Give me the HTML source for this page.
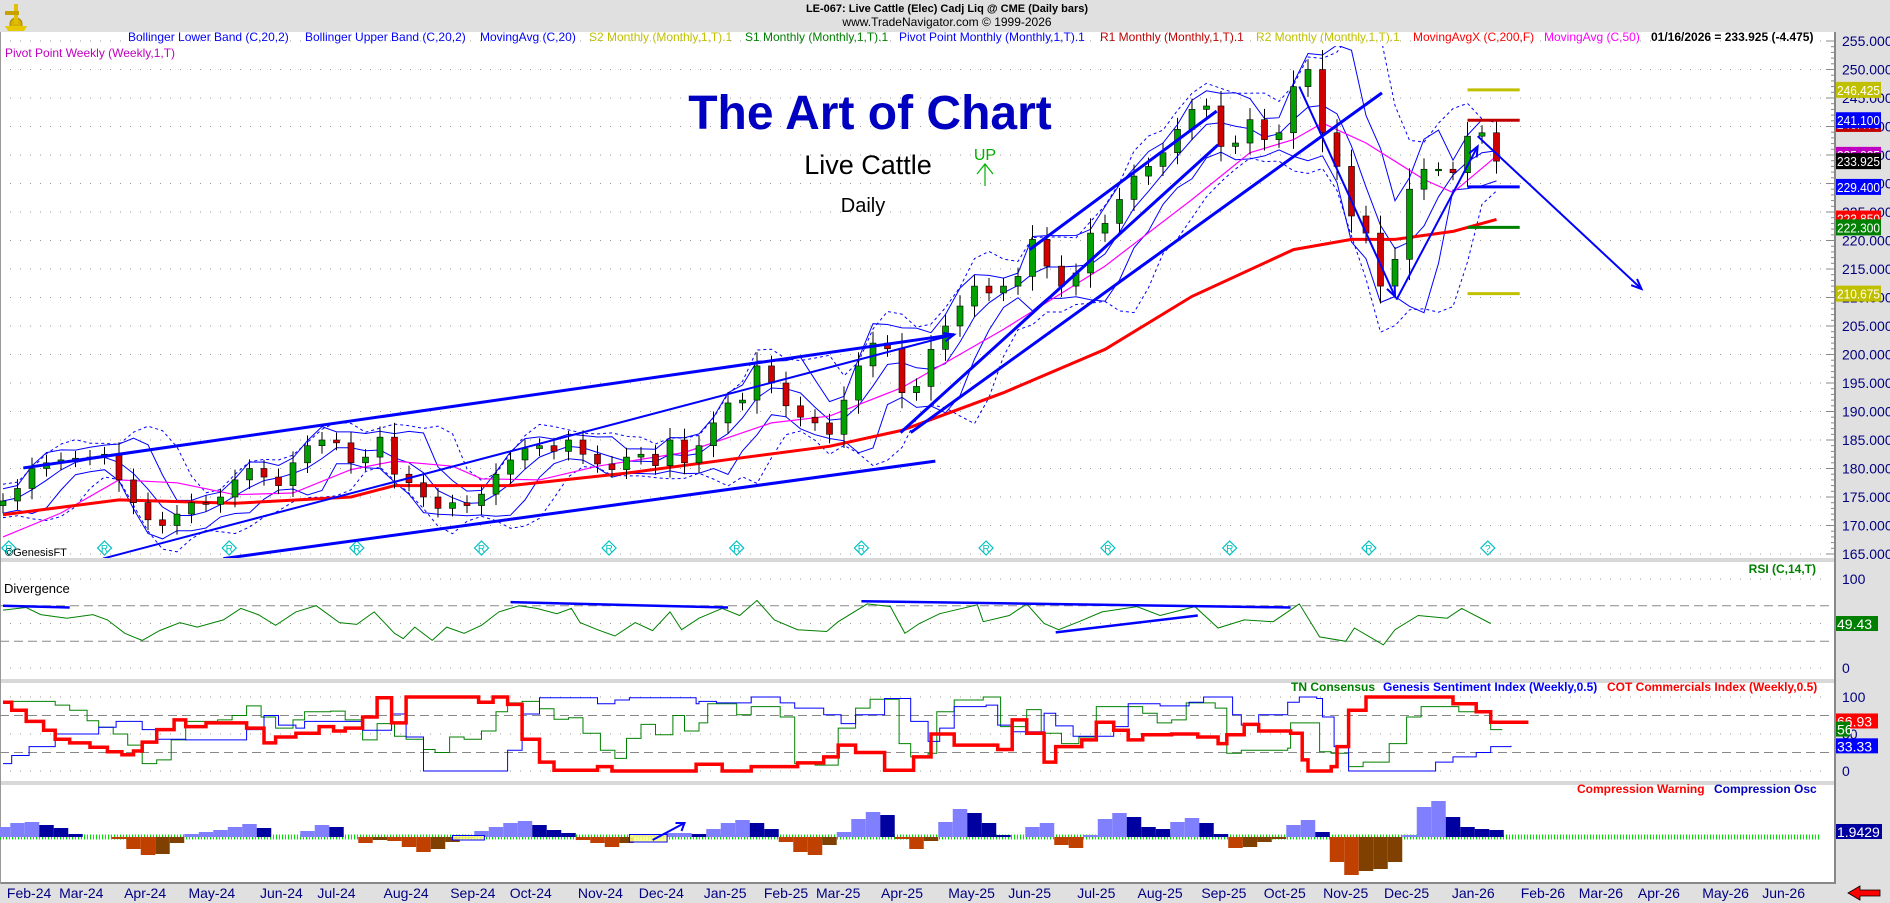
<!DOCTYPE html>
<html><head><meta charset="utf-8"><title>Live Cattle - The Art of Chart</title>
<style>
html,body{margin:0;padding:0;background:#fff;}
svg{display:block;font-family:"Liberation Sans",Arial,sans-serif;}
</style></head>
<body>
<svg id="chart" width="1890" height="903" viewBox="0 0 1890 903" xmlns="http://www.w3.org/2000/svg">
  <defs>
    <clipPath id="mainClip"><rect x="0" y="46" width="1835" height="512"/></clipPath>
  </defs>
  <rect x="0" y="0" width="1890" height="903" fill="#ffffff"/>
  <rect x="0" y="0" width="1890" height="32" fill="#e0e0e0"/>
  <rect x="1836" y="32" width="54" height="871" fill="#e0e0e0"/>
  <rect x="0" y="884" width="1890" height="19" fill="#e0e0e0"/>
  <rect x="0" y="558" width="1836" height="4" fill="#d8d8d8"/>
  <rect x="0" y="679" width="1836" height="4" fill="#d8d8d8"/>
  <rect x="0" y="781" width="1836" height="4" fill="#d8d8d8"/>
  <line x1="0" y1="883" x2="1836" y2="883" stroke="#888" stroke-width="2"/>
  <line x1="1835" y1="32" x2="1835" y2="884" stroke="#888" stroke-width="2"/>
  <line x1="0.5" y1="32" x2="0.5" y2="884" stroke="#999" stroke-width="1"/>

  <g>
    <circle cx="16" cy="24" r="6" fill="#d8b000" stroke="#a08000"/>
    <rect x="14" y="4" width="4" height="20" fill="#e0c000"/>
    <rect x="5" y="11" width="14" height="4" fill="#c8a000"/>
    <path d="M5 26 L27 26 L24 31 L8 31 Z" fill="#e8c800"/>
  </g>
  <text x="947" y="12" font-size="11" font-weight="bold" text-anchor="middle" fill="#000">LE-067:  Live Cattle (Elec) Cadj Liq @ CME  (Daily bars)</text>
  <text x="947" y="26" font-size="12" text-anchor="middle" fill="#000">www.TradeNavigator.com © 1999-2026</text>

  <g font-size="12">
    <text x="128" y="41" fill="#0000ff">Bollinger Lower Band (C,20,2)</text>
    <text x="305" y="41" fill="#0000ff">Bollinger Upper Band (C,20,2)</text>
    <text x="480" y="41" fill="#0000ff">MovingAvg (C,20)</text>
    <text x="589" y="41" fill="#c0c000">S2 Monthly (Monthly,1,T).1</text>
    <text x="745" y="41" fill="#008000">S1 Monthly (Monthly,1,T).1</text>
    <text x="899" y="41" fill="#0000ff">Pivot Point Monthly (Monthly,1,T).1</text>
    <text x="1100" y="41" fill="#c00000">R1 Monthly (Monthly,1,T).1</text>
    <text x="1256" y="41" fill="#c0c000">R2 Monthly (Monthly,1,T).1</text>
    <text x="1413" y="41" fill="#ff0000">MovingAvgX (C,200,F)</text>
    <text x="1544" y="41" fill="#ff00ff">MovingAvg (C,50)</text>
    <text x="1651" y="41" fill="#000" font-weight="bold">01/16/2026 = 233.925 (-4.475)</text>
    <text x="5" y="57" fill="#c000c0">Pivot Point Weekly (Weekly,1,T)</text>
  </g>

  <g id="grid"></g>
  <g id="main" clip-path="url(#mainClip)"></g>
  <g id="rsi"></g>
  <g id="cons"></g>
  <g id="comp"></g>
  <g id="axes"></g>

  <text x="870" y="129" font-size="48" font-weight="bold" text-anchor="middle" fill="#0000c0">The Art of Chart</text>
  <text x="868" y="174" font-size="27" text-anchor="middle" fill="#000">Live Cattle</text>
  <text x="863" y="212" font-size="20" text-anchor="middle" fill="#000">Daily</text>
  <g>
    <text x="985" y="160" font-size="16" text-anchor="middle" fill="#00b000">UP</text>
    <line x1="985" y1="164" x2="985" y2="186" stroke="#00b000" stroke-width="1.2"/>
    <polyline points="977,174 985,164 993,174" fill="none" stroke="#00b000" stroke-width="1.2"/>
  </g>

  <text x="4" y="593" font-size="13" fill="#000">Divergence</text>
  <text x="1816" y="573" font-size="12" font-weight="bold" text-anchor="end" fill="#008000">RSI (C,14,T)</text>
  <text x="1291" y="691" font-size="12" font-weight="bold" fill="#008000">TN Consensus</text>
  <text x="1383" y="691" font-size="12" font-weight="bold" fill="#0000ff">Genesis Sentiment Index (Weekly,0.5)</text>
  <text x="1607" y="691" font-size="12" font-weight="bold" fill="#ff0000">COT Commercials Index (Weekly,0.5)</text>
  <text x="1577" y="793" font-size="12" font-weight="bold" fill="#ff0000">Compression Warning</text>
  <text x="1714" y="793" font-size="12" font-weight="bold" fill="#0000c0">Compression Osc</text>
  <text x="5" y="556" font-size="11" fill="#000">©GenesisFT</text>
  <path d="M1848 893 L1860 886 L1860 890 L1880 890 L1880 896 L1860 896 L1860 900 Z" fill="#ff0000" stroke="#000" stroke-width="0.8"/>
</svg>
<script>
// ===== data =====
const weeklyCloses = [174.3,176.5,180,181,181.5,181.8,182,182.5,178,174,
171,170,172,174,173.7,175,178,180,178.5,177,
181,184,185,184.5,181,182,185.5,179,177.5,175,
173,174,173.5,175.5,179,181.5,183.5,184,183,185,
182.5,180.8,179.8,182,182.5,180.5,185,181,184,188,
191.5,192,198,195,191,189,188,186,192,198,
202,201,193.3,194.4,200.9,205,208.5,212,210.8,212,
213.7,220.2,215.5,212,214.3,221.3,223,227.2,231.3,233,
235.4,239.5,243,243.6,236.5,237.1,241.2,237.7,238.9,247,
250,238.9,233,224.3,221.3,212,216.7,229,232.5,232.5,
231.9,238.3,238.9,233.925];
const ma200Points = [[0,171.9],[8,174.5],[16,173.9],[24,175],[27,177],[35,177],[43,179.2],[51,181.9],[57,183.9],[62,186.7],[69,193.3],[76,200.9],[82,210.2],[89,218.4],[93,220.2],[96,220.2],[100,221.6],[103,223.7]];
const ma50Points = [[0,168],[4,172.2],[8,178],[12,177.5],[16,175.4],[20,175.7],[24,179.8],[27,181.3],[31,180.4],[33,178.2],[37,178],[41,180.4],[47,182.8],[53,188],[57,189.2],[62,194.2],[69,204.4],[76,215.5],[82,227.2],[86,235.4],[89,237.7],[91,240.6],[94,237.1],[98,230.7],[100,228.4],[103,234.8]];
const trendLines = [[1.4,180.1,65.6,203.5,0],[6.9,164.2,65.6,203.5,1],[15.2,164.2,64.3,181.3,0],[62.6,186.3,95.1,245.9,0],[70.8,218.4,83.7,242.7,0],[61.9,186.3,83.8,236.8,0],[89.4,247,96,210.2,1],[96.1,209.6,101.7,236.5,1],[101.7,238.3,113,211.5,1]];
const pivotLevels = [246.425,241.1,229.4,222.3,210.675];
const pivotNames = ['r2','r1','pp','s1','s2'];
const pivotColors = ['#c0c000','#c00000','#0000ff','#008000','#c0c000'];
const priceTicks = [255,250,245,240,235,230,225,220,215,210,205,200,195,190,185,180,175,170,165];
const priceBoxes = [[246.425,'#c0c000','246.425'],[240.45,'#c00000','240.475'],[241.1,'#0000ff','241.100'],[235.025,'#c000c0','235.025'],[233.925,'#000000','233.925'],[229.4,'#0000ff','229.400'],[223.85,'#ff0000','223.850'],[222.3,'#008000','222.300'],[210.675,'#c0c000','210.675']];
const rsiSeries = [[0,65],[8,68],[13,60],[22,56],[31,60],[36,54],[42,39],[45,35],[48,31],[54,42],[61,51],[67,46],[76,54],[82,67],[88,60],[94,48],[101,63],[108,70],[116,51],[122,49],[128,63],[135,39],[138,33],[142,46],[148,31],[153,46],[159,39],[165,48],[171,63],[178,70],[184,67],[191,61],[196,67],[199,51],[205,43],[211,36],[218,51],[224,42],[230,63],[234,43],[240,56],[248,67],[254,59],[260,76],[266,54],[274,43],[284,41],[288,52],[298,72],[306,69],[311,39],[316,50],[323,61],[336,71],[338,52],[347,59],[353,72],[359,50],[364,43],[371,52],[379,63],[391,69],[399,59],[411,69],[419,45],[428,54],[438,52],[447,72],[454,35],[463,30],[466,45],[476,26],[480,43],[488,59],[498,56],[503,67],[513,50]];
const divergenceLines = [[0,70,23,68],[175,74,250,68],[296,75,444,68],[363,40,412,59]];
const cotSeries = [[0,93],[3,82],[8,67],[14,55],[18,43],[23,38],[30,32],[36,26],[41,22],[45,27],[48,39],[53,56],[59,69],[63,60],[70,65],[84,58],[90,38],[94,46],[101,51],[109,60],[114,54],[118,58],[124,73],[129,99],[134,65],[139,100],[164,93],[169,100],[174,90],[179,43],[185,12],[190,1],[205,6],[210,0],[239,9],[248,0],[258,6],[274,11],[283,19],[288,35],[294,25],[304,1],[314,19],[320,50],[328,35],[343,29],[348,69],[353,51],[359,12],[363,33],[372,42],[377,66],[383,55],[388,42],[393,49],[403,50],[412,46],[419,37],[422,49],[428,63],[433,54],[444,51],[448,15],[450,0],[458,6],[460,33],[464,82],[470,100],[494,100],[500,91],[508,80],[513,66],[526,66]];
const genesisSeries = [[0,10],[3,21],[9,33],[18,50],[33,59],[39,67],[48,56],[53,43],[63,42],[84,56],[90,75],[95,62],[101,58],[104,67],[113,67],[124,55],[134,77],[139,46],[145,0],[174,28],[179,77],[185,99],[205,91],[211,96],[216,99],[239,91],[240,94],[246,92],[258,100],[268,92],[273,85],[283,76],[289,64],[294,76],[304,98],[313,67],[319,40],[323,58],[328,87],[339,89],[343,62],[348,53],[359,78],[363,61],[369,47],[379,47],[383,60],[388,91],[399,88],[409,93],[414,100],[424,76],[427,62],[433,76],[443,93],[447,100],[453,98],[455,73],[459,33],[464,0],[488,0],[494,12],[500,19],[508,25],[513,33],[520,34]];
const tnSeries = [[0,94],[13,94],[18,89],[23,82],[29,68],[33,59],[38,50],[43,35],[48,10],[53,15],[58,42],[63,67],[74,69],[79,75],[84,88],[89,73],[94,58],[100,69],[104,80],[113,81],[118,69],[124,42],[129,64],[135,47],[139,43],[145,29],[149,25],[154,46],[159,43],[165,54],[170,80],[174,92],[179,94],[185,84],[190,70],[195,72],[200,51],[206,28],[211,17],[215,44],[220,63],[225,49],[231,75],[235,54],[240,65],[243,91],[253,76],[258,87],[268,73],[273,10],[280,8],[288,58],[294,85],[299,97],[309,37],[313,19],[319,24],[322,80],[328,96],[338,100],[344,60],[353,83],[358,51],[365,37],[371,46],[377,87],[393,78],[398,65],[403,69],[408,92],[418,85],[422,24],[427,28],[443,31],[444,65],[453,65],[454,26],[458,24],[464,6],[469,12],[478,37],[484,73],[489,87],[502,80],[508,80],[513,56],[517,56]];
const compressionOsc = [1.0,1.4,1.5,1.2,0.9,0.3,0,0,-0.2,-1.2,
-1.8,-1.7,-0.6,0.3,0.5,0.7,1.0,1.3,0.9,0,
0,0.6,1.2,1.0,0,-0.6,-0.3,-0.4,-1.0,-1.5,
-1.2,-0.5,-0.1,0.6,1.0,1.4,1.6,1.2,0.7,0.4,
-0.3,-0.6,-1.0,-0.6,0.2,0.3,0.4,0.4,0.3,0.8,
1.4,1.7,1.4,0.8,-0.5,-1.5,-1.8,-0.8,0.5,1.8,
2.5,2.2,-0.2,-1.2,-0.4,1.5,2.8,2.4,1.4,0.2,
0,1.0,1.4,-0.8,-1.1,0.2,1.8,2.4,2.0,1.0,
0.8,1.5,1.9,1.4,0.3,-1.1,-1.0,-0.5,-0.2,1.2,
1.7,0.5,-2.5,-3.8,-3.4,-3.2,-2.5,0.2,3.0,3.6,
2.0,1.0,0.8,0.7];
const monthLabels = ['Feb-24','Mar-24','Apr-24','May-24','Jun-24','Jul-24','Aug-24','Sep-24','Oct-24','Nov-24','Dec-24','Jan-25','Feb-25','Mar-25','Apr-25','May-25','Jun-25','Jul-25','Aug-25','Sep-25','Oct-25','Nov-25','Dec-25','Jan-26','Feb-26','Mar-26','Apr-26','May-26','Jun-26'];
const monthDays = [9,27,49,72,96,115,139,162,182,206,227,249,270,288,310,334,354,377,399,421,442,463,484,507,531,551,571,594,614];
const rDiamondDays = [2,35,78,122,165,209,253,296,339,381,423,471,512];

// ===== scales =====
const NS='http://www.w3.org/2000/svg';
function xd(d){return 3 + d*2.9;}
function xw(i){return xd(i*5);}
function py(p){return 41 + (255-p)*5.7;}
function ry(v){return 668 - v*0.89;}
function cy(v){return 771 - v*0.74;}
function oy(v){return 837 - v*10;}
function mk(tag,attrs,parent){const e=document.createElementNS(NS,tag);for(const k in attrs)e.setAttribute(k,attrs[k]);parent.appendChild(e);return e;}

const grid=document.getElementById('grid');
const main=document.getElementById('main');
const rsiG=document.getElementById('rsi');
const consG=document.getElementById('cons');
const compG=document.getElementById('comp');
const axes=document.getElementById('axes');

priceTicks.forEach(t=>{
  const l=mk('line',{x1:0,x2:1830,y1:py(t),y2:py(t),stroke:'#999','stroke-dasharray':'1 9'},grid);
  
  
});
[[100,'1 9'],[70,'9 5'],[50,'1 9'],[30,'9 5'],[0,'1 9']].forEach(g=>{
  const l=mk('line',{x1:0,x2:1830,y1:ry(g[0]),y2:ry(g[0]),stroke:g[1]==='1 9'?'#999':'#888','stroke-dasharray':g[1]},grid);
  
  
});
[[100,'1 9'],[75,'9 5'],[50,'1 9'],[25,'9 5'],[0,'1 9']].forEach(g=>{
  const l=mk('line',{x1:0,x2:1830,y1:cy(g[0]),y2:cy(g[0]),stroke:g[1]==='1 9'?'#999':'#888','stroke-dasharray':g[1]},grid);
  
  
});

rDiamondDays.forEach((d,k)=>{
  const x=xd(d), y=548;
  const g=mk('g',{},main);
  
  
  mk('path',{d:`M${x} ${y-7} L${x+7} ${y} L${x} ${y+7} L${x-7} ${y} Z`,fill:'none',stroke:'#00c0c0','stroke-width':1.2},g);
  mk('text',{x:x,y:y+4,'font-size':10,'text-anchor':'middle',fill:'#00c0c0'},g).textContent=(k===rDiamondDays.length-1)?'?':'R';
});

function bands(win,k,minSd){
  const up=[],lo=[],mid=[];
  for(let i=0;i<weeklyCloses.length;i++){
    const s=[];for(let j=i-win+1;j<=i;j++)s.push(weeklyCloses[Math.max(0,j)]);
    const m=s.reduce((a,b)=>a+b,0)/s.length;
    const sd=Math.max(minSd,Math.sqrt(s.reduce((a,b)=>a+(b-m)*(b-m),0)/s.length));
    mid.push([i,m]);up.push([i,m+k*sd]);lo.push([i,m-k*sd]);
  }
  return {up,lo,mid};
}
function pathW(pts,f){return pts.map((p,i)=>(i?'L':'M')+xw(p[0]).toFixed(1)+' '+f(p[1]).toFixed(1)).join(' ');}
const bb=bands(4,1.8,1.2), bb2=bands(6,2.1,1.4);
[['bollinger-upper-band',bb.up,'none'],['bollinger-lower-band',bb.lo,'none'],['moving-average-20',bb.mid,'none'],['outer-band-upper',bb2.up,'3 3'],['outer-band-lower',bb2.lo,'3 3']].forEach(b=>{
  const p=mk('path',{d:pathW(b[1],py),fill:'none',stroke:'#0000ff','stroke-width':1,'stroke-dasharray':b[2]},main);
  
  
});
const m50=mk('path',{d:pathW(ma50Points,py),fill:'none',stroke:'#ff00ff','stroke-width':1.2},main);


const m200=mk('path',{d:pathW(ma200Points,py),fill:'none',stroke:'#ff0000','stroke-width':3},main);



weeklyCloses.forEach((c,i)=>{
  const o=i?weeklyCloses[i-1]:c-0.8;
  const hi=Math.max(o,c)+1.2+Math.abs(c-o)*0.2, lo=Math.min(o,c)-1.2-Math.abs(c-o)*0.2;
  const x=xw(i), up=c>=o;
  const g=mk('g',{},main);
  
  
  mk('line',{x1:x,x2:x,y1:py(hi),y2:py(lo),stroke:'#000','stroke-width':1},g);
  const top=py(Math.max(o,c)), h=Math.max(1.5,py(Math.min(o,c))-top);
  mk('rect',{x:x-3,y:top,width:6,height:h,fill:up?'#00a000':'#d00000',stroke:'#000','stroke-width':0.6},g);
});

pivotLevels.forEach((p,k)=>{
  const l=mk('line',{x1:xd(505),x2:xd(523),y1:py(p),y2:py(p),stroke:pivotColors[k],'stroke-width':3},main);
  
  
});

trendLines.forEach(t=>{
  const x1=xw(t[0]),y1=py(t[1]),x2=xw(t[2]),y2=py(t[3]);
  const g=mk('g',{},main);
  
  
  mk('line',{x1,y1,x2,y2,stroke:'#0000ff','stroke-width':t[4]?2:3},g);
  if(t[4]){
    const a=Math.atan2(y2-y1,x2-x1),L=11;
    mk('polyline',{points:`${x2-L*Math.cos(a-0.4)},${y2-L*Math.sin(a-0.4)} ${x2},${y2} ${x2-L*Math.cos(a+0.4)},${y2-L*Math.sin(a+0.4)}`,fill:'none',stroke:'#0000ff','stroke-width':2},g);
  }
});

function pathD(pts,f){return pts.map((p,i)=>(i?'L':'M')+xd(p[0]).toFixed(1)+' '+f(p[1]).toFixed(1)).join(' ');}
function stepD(pts,f){let s='';pts.forEach((p,i)=>{const x=xd(p[0]).toFixed(1),y=f(p[1]).toFixed(1);s+=i?`L${x} ${f(pts[i-1][1]).toFixed(1)} L${x} ${y} `:`M${x} ${y} `;});return s;}
const rl=mk('path',{d:pathD(rsiSeries,ry),fill:'none',stroke:'#008000','stroke-width':1},rsiG);


divergenceLines.forEach(d=>{
  const l=mk('line',{x1:xd(d[0]),y1:ry(d[1]),x2:xd(d[2]),y2:ry(d[3]),stroke:'#0000ff','stroke-width':2.5},rsiG);
  
  
});

const tnl=mk('path',{d:stepD(tnSeries,cy),fill:'none',stroke:'#008000','stroke-width':1},consG);


const gsl=mk('path',{d:stepD(genesisSeries,cy),fill:'none',stroke:'#0000ff','stroke-width':1},consG);


const cotl=mk('path',{d:stepD(cotSeries,cy),fill:'none',stroke:'#ff0000','stroke-width':3.5},consG);



const zl=mk('line',{x1:0,x2:1820,y1:oy(0),y2:oy(0),stroke:'#00e000','stroke-width':5,'stroke-dasharray':'1 2'},compG);


compressionOsc.forEach((v,i)=>{
  if(v===0)return;
  const x=xw(i);
  const prev=i?compressionOsc[i-1]:0;
  const pos=v>0;
  const b=mk('rect',{x:x-7.25,y:pos?oy(v):oy(0),width:14.5,height:Math.abs(v)*10,fill:pos?(v>=prev?'#8080ff':'#0000a0'):(v<=prev?'#c04000':'#804000')},compG);
  
  
});
[[155,0.15,166,-0.3],[216,0.25,229,-0.5]].forEach(bx=>{
  const r=mk('rect',{x:xd(bx[0]),y:oy(bx[1]),width:xd(bx[2])-xd(bx[0]),height:oy(bx[3])-oy(bx[1]),fill:'#ffff80','fill-opacity':0.85,stroke:'#0000ff','stroke-width':1},compG);
  
  
});
const ca=mk('path',{d:`M${xd(224)} ${oy(-0.3)} L${xd(235)} ${oy(1.4)} M${xd(235)-9} ${oy(1.4)} L${xd(235)} ${oy(1.4)} L${xd(235)-3} ${oy(1.4)+8}`,fill:'none',stroke:'#0000ff','stroke-width':2},compG);



priceTicks.forEach(t=>{
  const tx=mk('text',{x:1842,y:py(t)+5,'font-size':14,fill:'#000080'},axes);
  tx.textContent=t.toFixed(3);
  
  
});
for(let p=165;p<=255;p++){
  const l=mk('line',{x1:p%5?1831:1826,x2:1835,y1:py(p),y2:py(p),stroke:'#888','stroke-width':1},axes);
  
  
}
priceBoxes.forEach(b=>{
  const g=mk('g',{},axes);
  
  
  mk('rect',{x:1836,y:py(b[0])-8,width:45,height:16,fill:b[1]},g);
  mk('text',{x:1837,y:py(b[0])+5,'font-size':13,textLength:43,lengthAdjust:'spacingAndGlyphs',fill:'#fff'},g).textContent=b[2];
});
[[100,ry(100)],[0,ry(0)]].forEach(t=>{
  const tx=mk('text',{x:1842,y:t[1]+5,'font-size':14,fill:'#000080'},axes);
  tx.textContent=String(t[0]);
  
  
});
[100,50,0].forEach(t=>{
  const tx=mk('text',{x:1842,y:cy(t)+5,'font-size':14,fill:'#000080'},axes);
  tx.textContent=String(t);
  
  
});
[[ry(49.43),'#008000','49.43',42],[cy(66.93),'#ff0000','66.93',42],[cy(56),'#008000','56',14],[cy(33.33),'#0000ff','33.33',42],[oy(0.5),'#0000a0','1.9429',46]].forEach(b=>{
  const g=mk('g',{},axes);
  
  
  mk('rect',{x:1836,y:b[0]-8,width:b[3],height:15,fill:b[1]},g);
  mk('text',{x:1837,y:b[0]+5,'font-size':14,fill:'#fff'},g).textContent=b[2];
});
monthLabels.forEach((m,k)=>{
  const tx=mk('text',{x:xd(monthDays[k]),y:898,'font-size':14,'text-anchor':'middle',fill:'#000080'},axes);
  tx.textContent=m;
  
  
});
</script>
</body></html>
